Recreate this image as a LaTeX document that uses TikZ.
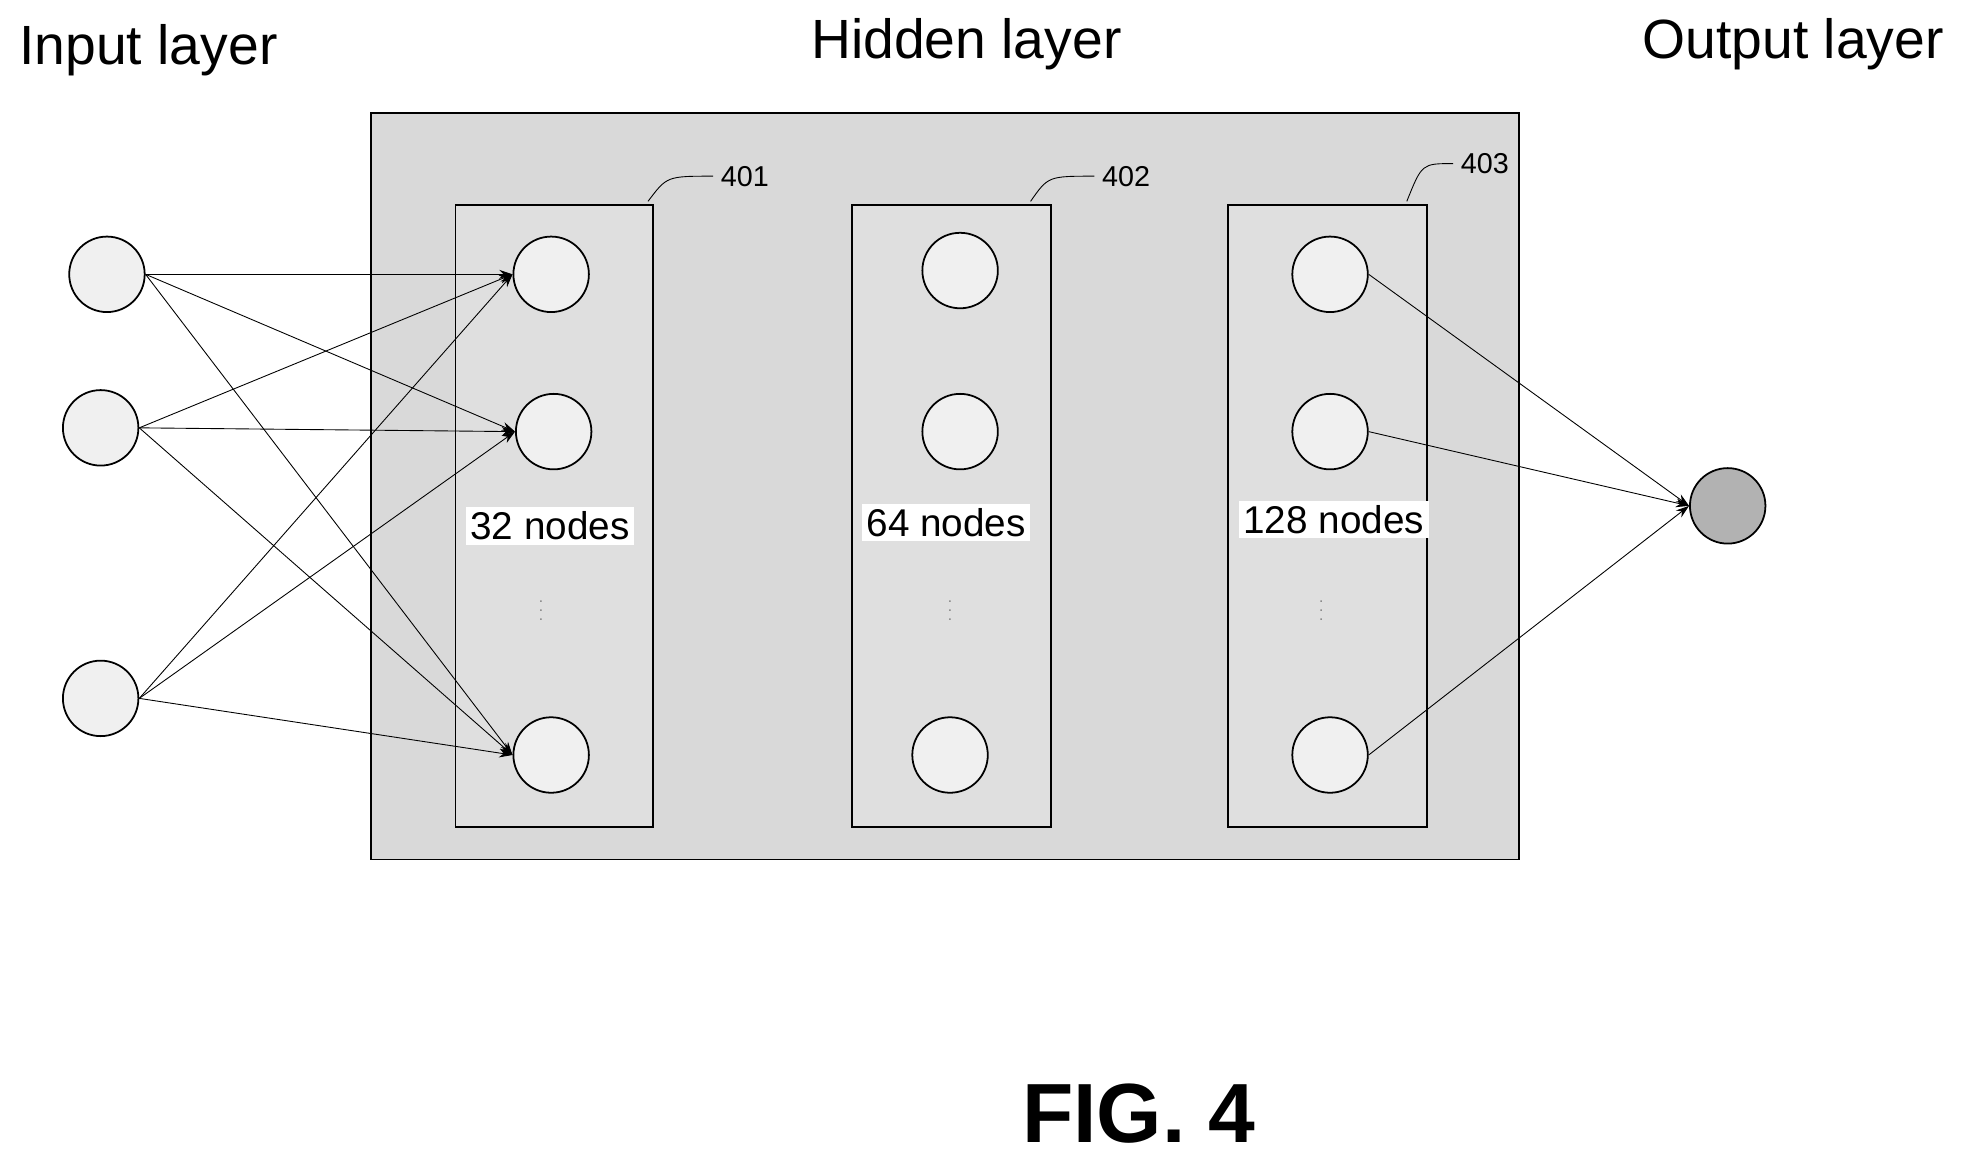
\documentclass[tikz,border=0pt]{standalone}
\usepackage{fontspec}
\setmainfont{Liberation Sans}
\usetikzlibrary{arrows.meta}
\begin{document}
\begin{tikzpicture}[x=0.02cm,y=-0.02cm,
  neuron/.style={circle,draw,thick,fill=gray!12,minimum size=1.2cm,inner sep=0},
  col/.style={draw,thick,fill=gray!25},
  conn/.style={-{Stealth[length=6pt,width=4pt]},thin},
  lbl/.style={font=\fontsize{25}{29}\selectfont},
  cnt/.style={fill=white,inner sep=2pt,font=\fontsize{17.5}{20}\selectfont},
  ref/.style={font=\fontsize{13}{15}\selectfont}]
\useasboundingbox (0,0) rectangle (1560,920);
\node[lbl] (tin) at (118,40) {Input layer};
\node[lbl] (thid) at (768,35) {Hidden layer};
\node[lbl] (tout) at (1425,35) {Output layer};
\draw[thick,fill=gray!30] (295,90) rectangle (1207,683);
\draw[col] (362,163) rectangle (519,657);
\draw[col] (677,163) rectangle (835,657);
\draw[col] (976,163) rectangle (1134,657);
\node[ref] (r1) at (592,140) {401};
\node[ref] (r2) at (895,140) {402};
\node[ref] (r3) at (1180,130) {403};
\draw (r1.west) .. controls (530,140) .. (515,160);
\draw (r2.west) .. controls (833,140) .. (819,160);
\draw (r3.west) .. controls (1130,130) .. (1118,160);
\node[neuron] (i1) at (85,218) {};
\node[neuron] (i2) at (80,340) {};
\node[neuron] (i3) at (80,555) {};
\node[neuron] (a1) at (438,218) {};
\node[neuron] (a2) at (440,343) {};
\node[neuron] (a3) at (438,600) {};
\node[neuron] (b1) at (763,215) {};
\node[neuron] (b2) at (763,343) {};
\node[neuron] (b3) at (755,600) {};
\node[neuron] (c1) at (1057,218) {};
\node[neuron] (c2) at (1057,343) {};
\node[neuron] (c3) at (1057,600) {};
\node[neuron,fill=gray!60] (o) at (1373,402) {};
\node[cnt] (n1) at (437,418) {32 nodes};
\node[cnt] (n2) at (752,415) {64 nodes};
\node[cnt] (n3) at (1060,413) {128 nodes};
\foreach \x in {430,755,1050} \node[font=\scriptsize,gray,inner sep=0] at (\x,480) {$\vdots$};
\foreach \i in {i1,i2,i3}
  \foreach \a in {a1,a2,a3}
    \draw[conn] (\i.east) -- (\a.west);
\foreach \c in {c1,c2,c3} \draw[conn] (\c.east) -- (o.west);
\node[font=\bfseries\fontsize{38}{42}\selectfont] (fig) at (905,885) {FIG. 4};
\end{tikzpicture}
\end{document}
